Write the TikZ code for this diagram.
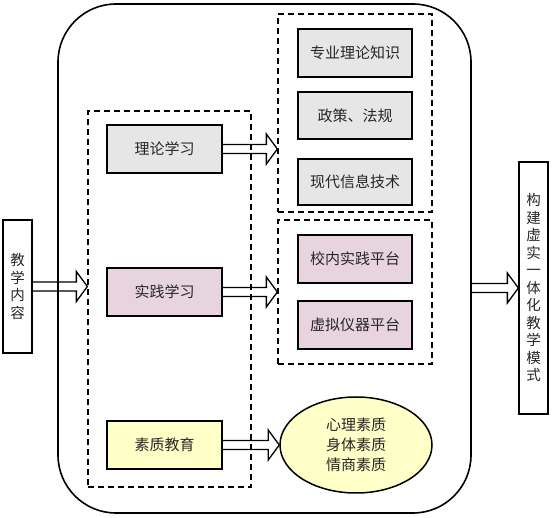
\documentclass[tikz,border=0pt]{standalone}
\usepackage{fontspec}
\setmainfont{Noto Sans CJK SC}
\usetikzlibrary{positioning,shapes.geometric,calc}

% hollow block arrow, its height taken from the first point
\newcommand\fatarrow[2]{%
  \draw[arrowline] let \p1=#1, \p2=#2 in
    (\x1,\y1+4.5) -- (\x2-11,\y1+4.5) -- (\x2-11,\y1+15) -- (\x2,\y1)
    -- (\x2-11,\y1-15) -- (\x2-11,\y1-4.5) -- (\x1,\y1-4.5);}

\begin{document}
\begin{tikzpicture}[x=1pt,y=-1pt,
    box/.style={draw,line width=1.5pt,minimum width=115pt,minimum height=48pt,inner sep=0,
      text=black!85,font=\fontsize{15}{17}\selectfont},
    vbox/.style={draw,line width=1.3pt,minimum width=29pt,inner sep=0,align=center,
      text=black!85,font=\fontsize{14.5}{17.5}\selectfont},
    group/.style={draw,line width=1.3pt,dash pattern=on 6pt off 4pt,inner sep=0},
    arrowline/.style={draw,line width=1.3pt,line join=miter}]
    \definecolor{theo}{RGB}{230,230,230}
    \definecolor{prac}{RGB}{232,212,222}
    \definecolor{qual}{RGB}{255,255,200}
    \useasboundingbox (0,0) rectangle (552,518);
    % frame
    \node[draw,line width=1.6pt,rounded corners=58pt,minimum width=413pt,minimum height=509pt] (outer) at (264.5,258.5) {};
    % in and out
    \node[vbox,minimum height=133pt] (content) at (17.5,286.5) {教\\学\\内\\容};
    \node[vbox,minimum height=252pt] (model) at (533.5,288) {构\\建\\虚\\实\\一\\体\\化\\教\\学\\模\\式};
    % study parts
    \node[group,minimum width=163pt,minimum height=376pt] (studygrp) at (169.5,299) {};
    \node[box,fill=theo] (theory) at (164.5,149) {理论学习};
    \node[box,fill=prac] (practice) at (164.5,292) {实践学习};
    \node[box,fill=qual] (quality) at (164.5,445) {素质教育};
    % theory contents
    \node[group,minimum width=154pt,minimum height=198pt] (theorygrp) at (355,113) {};
    \node[box,fill=theo,minimum width=114pt] (major) at (355,53) {专业理论知识};
    \node[box,fill=theo,minimum width=114pt,minimum height=47pt] (policy) at (355,115.5) {政策、法规};
    \node[box,fill=theo,minimum width=114pt,minimum height=46pt] (infotech) at (355,182) {现代信息技术};
    % practice contents
    \node[group,minimum width=154pt,minimum height=144pt] (practgrp) at (355,292) {};
    \node[box,fill=prac,minimum width=114pt] (campus) at (355,259) {校内实践平台};
    \node[box,fill=prac,minimum width=114pt] (virtual) at (355,325) {虚拟仪器平台};
    % quality contents
    \node[ellipse,draw,line width=1.5pt,fill=qual,minimum width=152pt,minimum height=96pt,inner sep=0,
      align=center,text=black!85,font=\fontsize{15}{20}\selectfont] (traits) at (356,445) {心理素质\\身体素质\\情商素质};
    % arrows
    \fatarrow{(content.east)}{(studygrp.west)}
    \fatarrow{(theory.east)}{(theorygrp.west)}
    \fatarrow{(practice.east)}{(practgrp.west)}
    \fatarrow{(quality.east)}{(traits.west)}
    \fatarrow{(outer.east |- model.west)}{(model.west)}
  \end{tikzpicture}
\end{document}
